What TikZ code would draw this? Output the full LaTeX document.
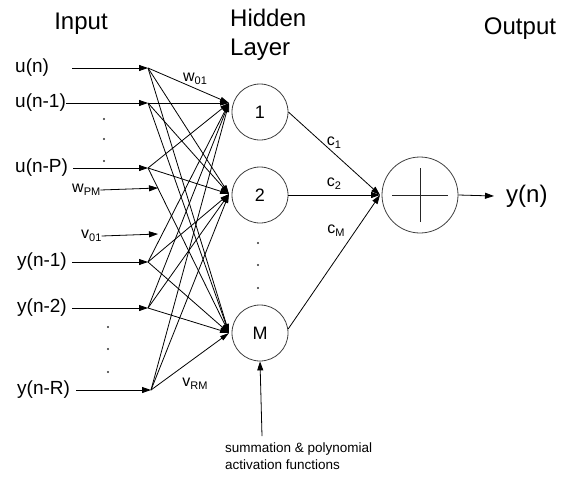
\documentclass[tikz,border=0pt]{standalone}
\usepackage{fontspec}
\setmainfont{Liberation Sans}
\usetikzlibrary{arrows.meta}
\newcommand{\mysub}[1]{{\fontsize{11}{11}\selectfont\raisebox{-3pt}{#1}}}
\begin{document}
\begin{tikzpicture}[x=1pt,y=-1pt,
  head/.style={font=\fontsize{24}{29}\selectfont, align=left, inner sep=0pt},
  lab/.style={font=\fontsize{19}{22}\selectfont, inner sep=0pt, anchor=west},
  wlab/.style={font=\fontsize{16}{18}\selectfont, inner sep=0pt},
  neuron/.style={circle, draw=black!75, line width=0.8pt, minimum size=56pt, inner sep=0pt, font=\fontsize{18}{20}\selectfont},
  arr/.style={draw=black, line width=0.8pt, -{Triangle[length=9pt,width=6pt]}},
  wire/.style={draw=black, line width=0.8pt, -{Triangle[length=9pt,width=5pt]}},
  dot/.style={circle, fill=black!80, inner sep=0pt, minimum size=2.4pt}]
\useasboundingbox (0,0) rectangle (562,477);

% headers
\node[head] (hin) at (81,24) {Input};
\node[head, anchor=west] (hhid) at (230,35) {Hidden\\Layer};
\node[head] (hout) at (520,29) {Output};

% input labels
\node[lab] (un) at (15,68) {u(n)};
\node[lab] (un1) at (15,103) {u(n-1)};
\node[lab] (unP) at (15,168) {u(n-P)};
\node[lab] (yn1) at (17,262) {y(n-1)};
\node[lab] (yn2) at (17,308) {y(n-2)};
\node[lab] (ynR) at (17,390) {y(n-R)};

% arrow starts
\coordinate (s1) at (72,68);
\coordinate (s2) at (66,103);
\coordinate (s3) at (73,168);
\coordinate (s4) at (72,262);
\coordinate (s5) at (72,308);
\coordinate (s6) at (76,390);

% fan points
\coordinate (f1) at (148,68);
\coordinate (f2) at (148,103);
\coordinate (f3) at (148,168);
\coordinate (f4) at (148,262);
\coordinate (f5) at (148,308);
\coordinate (f6) at (151,390);

\foreach \i in {1,...,6} {\draw[arr] (s\i) -- (f\i);}

% weight labels with arrows
\node[wlab, anchor=west] (wpm) at (72,190) {w\mysub{PM}};
\coordinate (wpmt) at (158,188);
\draw[arr] (wpm.east) -- (wpmt);
\node[wlab, anchor=west] (v01) at (81,236) {v\mysub{01}};
\coordinate (v01t) at (158,234);
\draw[arr] (v01.east) -- (v01t);

% dots
\node[dot] (d1) at (104,119) {};
\node[dot] (d2) at (104,139) {};
\node[dot] (d3) at (104,161) {};
\node[dot] (d4) at (108,327) {};
\node[dot] (d5) at (108,349) {};
\node[dot] (d6) at (108,372) {};

% hidden neurons
\node[neuron] (n1) at (260,112) {1};
\node[neuron] (n2) at (260,195) {2};
\node[neuron] (nM) at (260,333) {M};
\node[dot] (d7) at (258,243) {};
\node[dot] (d8) at (258,265) {};
\node[dot] (d9) at (258,288) {};

% convergence points
\coordinate (h1) at (229,103);
\coordinate (h2) at (229,194);
\coordinate (h3) at (229,333);

\foreach \i in {1,...,6} {
  \foreach \j in {1,2,3} {
    \draw[wire] (f\i) -- (h\j);
  }
}

\node[wlab] (w01) at (195,79) {w\mysub{01}};
\node[wlab] (vrm) at (195,384) {v\mysub{RM}};

% output
\node[circle, draw=black!75, line width=0.8pt, minimum size=76pt, inner sep=0pt] (out) at (420,195) {};
\draw[line width=0.8pt, black!85] ([xshift=-28pt]out.center) -- ([xshift=28pt]out.center);
\draw[line width=0.8pt, black!85] ([yshift=-27pt]out.center) -- ([yshift=27pt]out.center);
\coordinate (oc) at (380,195);
\draw[arr] (n1.east) -- (oc);
\draw[arr] (n2.east) -- (oc);
\draw[arr] (nM.8) -- (oc);
\node[wlab] (c1) at (334,143) {c\mysub{1}};
\node[wlab] (c2) at (334,184) {c\mysub{2}};
\node[wlab] (cM) at (336,231) {c\mysub{M}};

\node[font=\fontsize{24}{28}\selectfont, inner sep=0pt, anchor=west] (yn) at (506,196) {y(n)};
\draw[arr] (out.east) -- ([xshift=-12pt]yn.west);

% activation note
\node[font=\fontsize{13.5}{17}\selectfont, align=left, inner sep=0pt, anchor=north west] (note) at (225,443) {summation \& polynomial\\activation functions};
\coordinate (nb) at (262,436);
\draw[arr] (nb) -- (nM.south);
\end{tikzpicture}
\end{document}
